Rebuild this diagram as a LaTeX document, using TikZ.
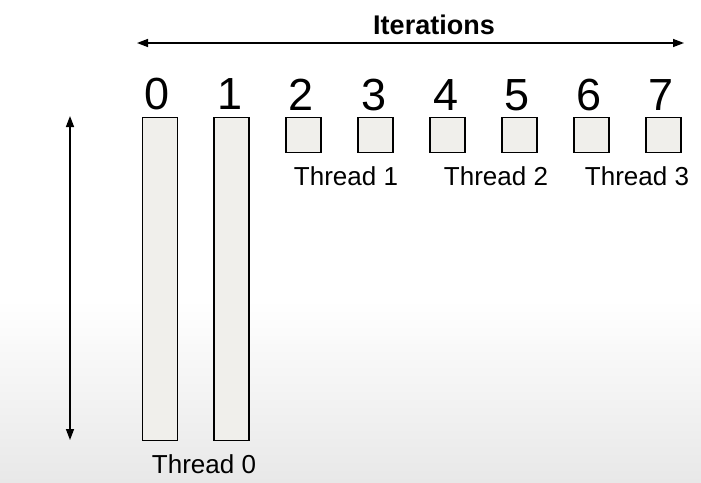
\documentclass[tikz,border=0pt]{standalone}
\usepackage{fontspec}
\setmainfont{Liberation Sans}
\usetikzlibrary{arrows.meta}
\definecolor{boxfill}{RGB}{240,239,235}
\begin{document}
\begin{tikzpicture}[x=1pt,y=-1pt,
  cell/.style={draw=black,line width=1.4pt,fill=boxfill,inner sep=0pt,minimum width=35pt,anchor=north},
  sq/.style={cell,minimum height=35pt},
  bar/.style={cell,minimum height=323pt},
  digit/.style={inner sep=0pt,anchor=base,font=\fontsize{45}{45}\selectfont},
  lbl/.style={inner sep=0pt,anchor=base,font=\fontsize{26}{26}\selectfont},
  dbl/.style={line width=1.4pt,{Triangle[length=11pt,width=8pt]}-{Triangle[length=11pt,width=8pt]}}]
\useasboundingbox (0,0) rectangle (701,482);
\shade[top color=white,bottom color=black!9] (0,300) rectangle (701,482);
% horizontal arrow
\coordinate (hl) at (137,43);
\coordinate (hr) at (684,43);
\draw[dbl] (hl) -- (hr);
\node[inner sep=0pt,anchor=base,font=\bfseries\fontsize{27}{27}\selectfont] (iter) at (434,34) {Iterations};
% vertical arrow
\coordinate (vt) at (70,116);
\coordinate (vb) at (70,440);
\draw[dbl] (vt) -- (vb);
% bars
\node[bar] (b0) at (160,117) {};
\node[bar] (b1) at (231.5,117) {};
% squares
\node[sq] (s2) at (303.5,117) {};
\node[sq] (s3) at (375.5,117) {};
\node[sq] (s4) at (447.5,117) {};
\node[sq] (s5) at (519.5,117) {};
\node[sq] (s6) at (591.5,117) {};
\node[sq] (s7) at (663.5,117) {};
% digits
\node[digit] (d0) at (157,109) {0};
\node[digit] (d1) at (230,109) {1};
\node[digit] (d2) at (301,110) {2};
\node[digit] (d3) at (374,110) {3};
\node[digit] (d4) at (446,110) {4};
\node[digit] (d5) at (517,110) {5};
\node[digit] (d6) at (589,110) {6};
\node[digit] (d7) at (661,110) {7};
% thread labels
\node[lbl] (t0) at (204,473) {Thread 0};
\node[lbl] (t1) at (346,185) {Thread 1};
\node[lbl] (t2) at (496,185) {Thread 2};
\node[lbl] (t3) at (637,185) {Thread 3};
\end{tikzpicture}
\end{document}
